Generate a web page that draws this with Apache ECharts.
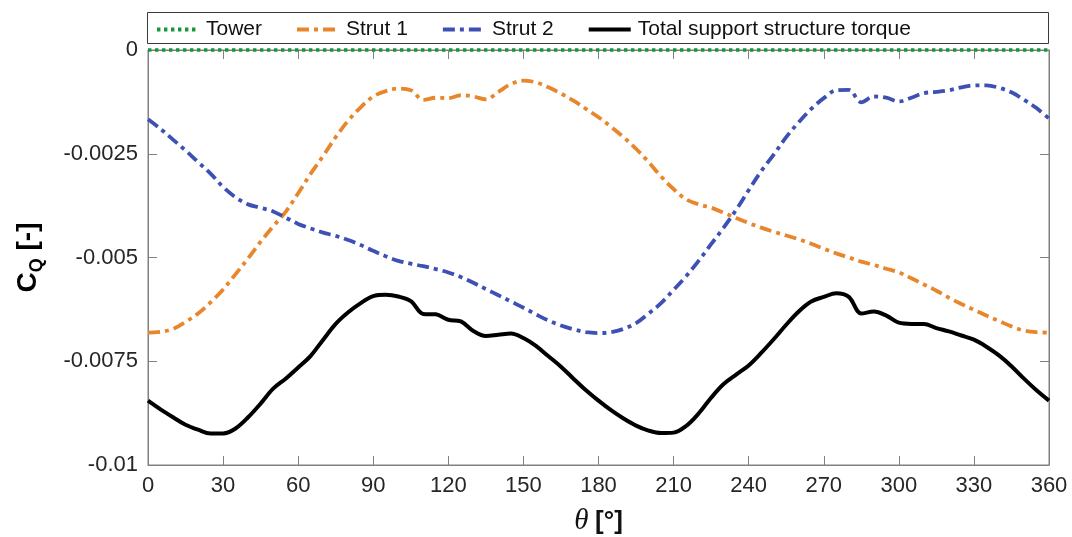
<!DOCTYPE html>
<html>
<head>
<meta charset="utf-8">
<script src="https://cdn.jsdelivr.net/npm/echarts@6/dist/echarts.min.js"></script>
<style>
  html, body { margin: 0; padding: 0; background: #fff; }
  #chart { width: 1072px; height: 537px; }
</style>
</head>
<body>
<div id="chart"></div>
<script>
// Azimuth angle theta [deg]
const theta = [0,5,10,15,20,25,30,35,40,45,50,55,60,65,70,75,80,85,90,95,100,105,110,115,120,125,130,135,140,145,150,155,160,165,170,175,180,185,190,195,200,205,210,215,220,225,230,235,240,245,250,255,260,265,270,275,280,285,290,295,300,305,310,315,320,325,330,335,340,345,350,355,360];

// Torque coefficient contributions C_Q [-]
const tower = [0,0,0,0,0,0,0,0,0,0,0,0,0,0,0,0,0,0,0,0,0,0,0,0,0,0,0,0,0,0,0,0,0,0,0,0,0,0,0,0,0,0,0,0,0,0,0,0,0,0,0,0,0,0,0,0,0,0,0,0,0,0,0,0,0,0,0,0,0,0,0,0,0];

const strut1 = [-6.81e-3,-6.79e-3,-6.72e-3,-6.55e-3,-6.35e-3,-6.08e-3,-5.77e-3,-5.40e-3,-5.02e-3,-4.62e-3,
  -4.25e-3,-3.90e-3,-3.45e-3,-2.98e-3,-2.55e-3,-2.10e-3,-1.70e-3,-1.38e-3,-1.12e-3,-0.99e-3,
  -0.93e-3,-0.97e-3,-1.20e-3,-1.15e-3,-1.16e-3,-1.09e-3,-1.12e-3,-1.19e-3,-1.01e-3,-0.82e-3,
  -0.74e-3,-0.78e-3,-0.90e-3,-1.05e-3,-1.22e-3,-1.42e-3,-1.62e-3,-1.85e-3,-2.10e-3,-2.38e-3,
  -2.70e-3,-3.05e-3,-3.35e-3,-3.60e-3,-3.72e-3,-3.80e-3,-3.92e-3,-4.05e-3,-4.17e-3,-4.28e-3,
  -4.38e-3,-4.47e-3,-4.56e-3,-4.67e-3,-4.79e-3,-4.90e-3,-5.00e-3,-5.10e-3,-5.18e-3,-5.27e-3,
  -5.36e-3,-5.50e-3,-5.65e-3,-5.80e-3,-5.97e-3,-6.12e-3,-6.26e-3,-6.40e-3,-6.53e-3,-6.66e-3,
  -6.76e-3,-6.80e-3,-6.81e-3];

const strut2 = [-1.67e-3,-1.90e-3,-2.16e-3,-2.42e-3,-2.70e-3,-2.98e-3,-3.30e-3,-3.55e-3,-3.72e-3,-3.80e-3,
  -3.89e-3,-4.04e-3,-4.19e-3,-4.30e-3,-4.40e-3,-4.48e-3,-4.58e-3,-4.70e-3,-4.84e-3,-4.97e-3,
  -5.08e-3,-5.15e-3,-5.21e-3,-5.28e-3,-5.36e-3,-5.47e-3,-5.61e-3,-5.76e-3,-5.91e-3,-6.06e-3,
  -6.21e-3,-6.37e-3,-6.52e-3,-6.64e-3,-6.73e-3,-6.80e-3,-6.82e-3,-6.80e-3,-6.72e-3,-6.58e-3,
  -6.35e-3,-6.10e-3,-5.78e-3,-5.45e-3,-5.08e-3,-4.68e-3,-4.28e-3,-3.85e-3,-3.38e-3,-2.92e-3,
  -2.52e-3,-2.10e-3,-1.74e-3,-1.42e-3,-1.16e-3,-0.97e-3,-0.96e-3,-1.26e-3,-1.12e-3,-1.15e-3,
  -1.24e-3,-1.15e-3,-1.04e-3,-1.01e-3,-0.97e-3,-0.90e-3,-0.85e-3,-0.85e-3,-0.91e-3,-1.02e-3,
  -1.20e-3,-1.40e-3,-1.65e-3];

const total = [-8.45e-3,-8.66e-3,-8.85e-3,-9.03e-3,-9.15e-3,-9.24e-3,-9.24e-3,-9.12e-3,-8.85e-3,-8.52e-3,
  -8.16e-3,-7.92e-3,-7.65e-3,-7.37e-3,-6.98e-3,-6.60e-3,-6.32e-3,-6.10e-3,-5.93e-3,-5.90e-3,
  -5.94e-3,-6.05e-3,-6.36e-3,-6.37e-3,-6.50e-3,-6.54e-3,-6.77e-3,-6.89e-3,-6.86e-3,-6.83e-3,
  -6.94e-3,-7.13e-3,-7.38e-3,-7.63e-3,-7.92e-3,-8.20e-3,-8.45e-3,-8.68e-3,-8.88e-3,-9.05e-3,
  -9.17e-3,-9.23e-3,-9.22e-3,-9.06e-3,-8.76e-3,-8.38e-3,-8.05e-3,-7.82e-3,-7.60e-3,-7.30e-3,
  -6.97e-3,-6.62e-3,-6.30e-3,-6.06e-3,-5.95e-3,-5.86e-3,-5.95e-3,-6.35e-3,-6.30e-3,-6.40e-3,
  -6.57e-3,-6.60e-3,-6.60e-3,-6.70e-3,-6.78e-3,-6.88e-3,-6.98e-3,-7.15e-3,-7.36e-3,-7.62e-3,
  -7.92e-3,-8.20e-3,-8.45e-3];

const seriesNames = ['Tower', 'Strut 1', 'Strut 2', 'Total support structure torque'];
const xTicks = { min: 0, max: 360, step: 30 };
const yTicks = { min: -0.01, max: 0, step: 0.0025 };

const pairs = (ys) => theta.map((t, i) => [t, ys[i]]);

const axisGray = '#808080';
const labelColor = '#262626';
const sans = '"Liberation Sans", Arial, Helvetica, sans-serif';

const chart = echarts.init(document.getElementById('chart'), null, { renderer: 'canvas' });

const tickStyle = { show: true, inside: true, length: 9, lineStyle: { color: axisGray, width: 1 } };

chart.setOption({
  animation: false,
  backgroundColor: '#fff',
  grid: {
    left: 148, right: 23, top: 50, bottom: 72,
    outerBoundsMode: 'none', containLabel: false,
    show: true, borderColor: axisGray, borderWidth: 1, backgroundColor: 'transparent'
  },
  graphic: [{
    type: 'rect', z: 0, silent: true,
    shape: { x: 147.5, y: 12.5, width: 901, height: 31 },
    style: { fill: '#fff', stroke: '#3a3a3a', lineWidth: 1 }
  }],
  legend: {
    left: 155, top: 19, padding: 0, z: 10,
    itemWidth: 42, itemHeight: 14, itemGap: 33,
    itemStyle: { color: 'transparent', borderWidth: 0, opacity: 0 },
    lineStyle: { width: 4 },
    textStyle: { fontFamily: sans, fontSize: 21, color: '#111', padding: [0, 0, 0, 2] },
    data: seriesNames
  },
  xAxis: [{
    type: 'value', min: xTicks.min, max: xTicks.max, interval: xTicks.step,
    name: '{t|θ}  {b|[°]}', nameLocation: 'middle', nameGap: 42,
    nameTextStyle: {
      rich: {
        t: { fontFamily: '"Liberation Serif", "DejaVu Serif", serif', fontStyle: 'italic', fontSize: 29, color: '#111' },
        b: { fontFamily: sans, fontWeight: 'bold', fontSize: 26, color: '#111' }
      }
    },
    axisLine: { show: true, onZero: false, lineStyle: { color: axisGray, width: 1 } },
    axisTick: tickStyle,
    axisLabel: { fontFamily: sans, fontSize: 22, color: labelColor, margin: 10 },
    splitLine: { show: false }
  }, {
    type: 'value', position: 'top', min: xTicks.min, max: xTicks.max, interval: xTicks.step,
    axisLine: { show: true, onZero: false, lineStyle: { color: axisGray, width: 1 } },
    axisTick: tickStyle, axisLabel: { show: false }, splitLine: { show: false }
  }],
  yAxis: [{
    type: 'value', min: yTicks.min, max: yTicks.max, interval: yTicks.step,
    name: '{c|C}{q|Q}{b| [-]}', nameLocation: 'middle', nameGap: 102, nameRotate: 90,
    nameTextStyle: {
      rich: {
        c: { fontFamily: sans, fontWeight: 'bold', fontSize: 28, color: '#000', lineHeight: 36, verticalAlign: 'middle' },
        q: { fontFamily: sans, fontWeight: 'bold', fontSize: 18, color: '#000', lineHeight: 36, verticalAlign: 'bottom' },
        b: { fontFamily: sans, fontWeight: 'bold', fontSize: 28, color: '#000', lineHeight: 36, verticalAlign: 'middle' }
      }
    },
    axisLine: { show: true, onZero: false, lineStyle: { color: axisGray, width: 1 } },
    axisTick: tickStyle,
    axisLabel: { fontFamily: sans, fontSize: 22, color: labelColor, margin: 10 },
    splitLine: { show: false }
  }, {
    type: 'value', position: 'right', min: yTicks.min, max: yTicks.max, interval: yTicks.step,
    axisLine: { show: true, onZero: false, lineStyle: { color: axisGray, width: 1 } },
    axisTick: tickStyle, axisLabel: { show: false }, splitLine: { show: false }
  }],
  series: [
    {
      name: seriesNames[1], type: 'line', data: pairs(strut1), smooth: 0.35,
      showSymbol: false, symbol: 'none', z: 3,
      lineStyle: { color: '#E8862B', width: 3.8, type: [12, 5, 4, 5] },
      itemStyle: { color: '#E8862B' }
    },
    {
      name: seriesNames[2], type: 'line', data: pairs(strut2), smooth: 0.35,
      showSymbol: false, symbol: 'none', z: 3,
      lineStyle: { color: '#3D51B4', width: 3.8, type: [12, 5, 4, 5] },
      itemStyle: { color: '#3D51B4' }
    },
    {
      name: seriesNames[3], type: 'line', data: pairs(total), smooth: 0.35,
      showSymbol: false, symbol: 'none', z: 4,
      lineStyle: { color: '#000', width: 4, type: 'solid' },
      itemStyle: { color: '#000' }
    },
    {
      name: seriesNames[0], type: 'line', data: pairs(tower), clip: false,
      showSymbol: false, symbol: 'none', z: 5,
      lineStyle: { color: '#17963A', width: 3.4, type: [3.4, 3.6] },
      itemStyle: { color: '#17963A' }
    }
  ]
});
</script>
</body>
</html>
